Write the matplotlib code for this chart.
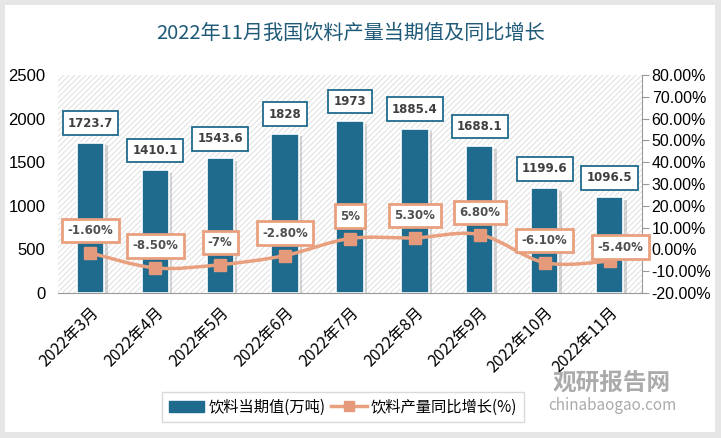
import numpy as np
import matplotlib
matplotlib.use("Agg")
import matplotlib.pyplot as plt
import matplotlib.patheffects as pe
from matplotlib.path import Path
from matplotlib.patches import PathPatch, Rectangle

plt.rcParams['font.family'] = ['Noto Sans CJK SC', 'DejaVu Sans']
plt.rcParams['hatch.linewidth'] = 0.6

months = ["2022年3月", "2022年4月", "2022年5月", "2022年6月", "2022年7月",
          "2022年8月", "2022年9月", "2022年10月", "2022年11月"]
output = [1723.7, 1410.1, 1543.6, 1828, 1973, 1885.4, 1688.1, 1199.6, 1096.5]
growth = [-1.6, -8.5, -7, -2.8, 5, 5.3, 6.8, -6.1, -5.4]
growth_text = ["-1.60%", "-8.50%", "-7%", "-2.80%", "5%", "5.30%", "6.80%", "-6.10%", "-5.40%"]

bar_color = "#1F6B8E"
line_color = "#E9A07F"
title_color = "#1F5A78"

fig = plt.figure(figsize=(7.21, 4.38), dpi=100)
fig.patch.set_facecolor("#E6E6E6")
# white card behind everything
card = Rectangle((5 / 721, 1 - 432 / 438), 710 / 721, 427 / 438,
                 transform=fig.transFigure, facecolor="white", edgecolor="none")
card.set_zorder(-10)
fig.patches.append(card)

ax = fig.add_axes([58 / 721, 1 - 293 / 438, 584 / 721, 218 / 438])
ax.set_zorder(1)
ax.set_facecolor("white")
ax.patch.set_hatch("//////")
ax.patch.set_edgecolor("#DADADA")
ax.patch.set_linewidth(0)

x = np.arange(len(months))
bars = ax.bar(x, output, width=0.42, color=bar_color, edgecolor="white", linewidth=1.2, zorder=2)
for b in bars:
    b.set_path_effects([pe.SimplePatchShadow(offset=(2.5, -2), shadow_rgbFace="#999999", alpha=0.4), pe.Normal()])

ax.set_xlim(-0.5, len(months) - 0.5)
ax.set_ylim(0, 2500)
ax.set_yticks(np.arange(0, 2501, 500))
ax.tick_params(axis="y", length=0, labelsize=12, pad=9)
for lb in ax.get_yticklabels():
    lb.set_fontfamily(["Liberation Sans", "DejaVu Sans"])
ax.set_xticks(x)
ax.set_xticklabels(months, rotation=45, ha="right", rotation_mode="anchor", fontsize=11.5)
ax.tick_params(axis="x", length=0, pad=8)
for s in ["top", "left", "right"]:
    ax.spines[s].set_visible(False)
ax.spines["bottom"].set_color("#999999")

for xi, v in zip(x, output):
    ax.annotate(f"{v:g}", (xi, v), xytext=(0, 14), textcoords="offset points",
                ha="center", va="center", fontsize=8.5, fontweight="bold", color="#404040",
                fontfamily=["DejaVu Sans"], zorder=5,
                bbox=dict(boxstyle="square,pad=0.45", facecolor="white", edgecolor=bar_color, linewidth=1.3))

ax2 = ax.twinx()
ax2.set_zorder(2)
ax2.set_ylim(-20, 80)
ax2.set_yticks(np.arange(-20, 81, 10))
ax2.set_yticklabels([f"{v:.2f}%" for v in np.arange(-20, 81, 10)], fontsize=11.5,
                    fontfamily=["Liberation Sans", "DejaVu Sans"])
ax2.tick_params(axis="y", length=5, color="#999999", pad=2)
for s in ["top", "left", "bottom"]:
    ax2.spines[s].set_visible(False)
ax2.spines["right"].set_color("#999999")

# smooth line through the points (Catmull-Rom as bezier)
pts = np.column_stack([x, growth]).astype(float)
verts = [tuple(pts[0])]
codes = [Path.MOVETO]
n = len(pts)
for i in range(n - 1):
    p0 = pts[max(i - 1, 0)]
    p1 = pts[i]
    p2 = pts[i + 1]
    p3 = pts[min(i + 2, n - 1)]
    c1 = p1 + (p2 - p0) / 6
    c2 = p2 - (p3 - p1) / 6
    verts += [tuple(c1), tuple(c2), tuple(p2)]
    codes += [Path.CURVE4] * 3
ax2.add_patch(PathPatch(Path(verts, codes), facecolor="none", edgecolor=line_color,
                        linewidth=2.5, transform=ax2.transData, zorder=3))
ax2.plot(x, growth, linestyle="none", marker="s", markersize=8, color="#E59B7B", zorder=4)

for i, (xi, g, t) in enumerate(zip(x, growth, growth_text)):
    off = (8, 10) if i == len(x) - 1 else (0, 16)
    ax2.annotate(t, (xi, g), xytext=off, textcoords="offset points",
                 ha="center", va="center", fontsize=8.5, fontweight="bold", color="#505050",
                 fontfamily=["DejaVu Sans"], zorder=6,
                 bbox=dict(boxstyle="square,pad=0.45", facecolor="white", edgecolor=line_color, linewidth=2))

fig.text(351 / 721, 1 - 33 / 438, "2022年11月我国饮料产量当期值及同比增长", ha="center", va="center",
         fontsize=14.5, color=title_color, fontweight="medium")

leg_handles = [plt.Rectangle((0, 0), 1, 1, color=bar_color),
               plt.Line2D([], [], color=line_color, linewidth=2.5, marker="s", markersize=7,
                          markerfacecolor="#E59B7B", markeredgecolor="#E59B7B")]
fig.legend(leg_handles, ["饮料当期值(万吨)", "饮料产量同比增长(%)"], loc="center",
           bbox_to_anchor=(343 / 721, 1 - 407 / 438), ncol=2, fontsize=11, frameon=True,
           fancybox=False, edgecolor="#D0D0D0", handlelength=2.3, columnspacing=0.4,
           handletextpad=0.3, borderpad=0.4)

# watermark
fig.text(612 / 721, 1 - 383 / 438, "观研报告网", ha="center", va="center", fontsize=17,
         fontweight="bold", color="#ABABAB", zorder=10)
fig.text(612 / 721, 1 - 406 / 438, "chinabaogao.com", ha="center", va="center", fontsize=11,
         color="#ABABAB", zorder=10)

fig.savefig("out.png", dpi=100, facecolor=fig.get_facecolor())
